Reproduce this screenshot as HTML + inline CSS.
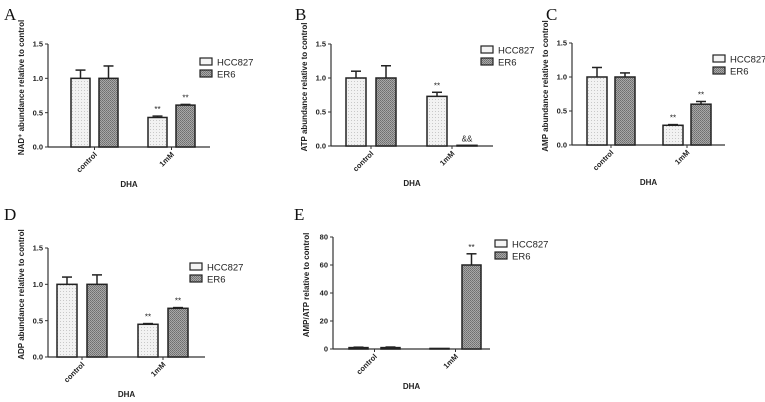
<!DOCTYPE html>
<html><head><meta charset="utf-8"><style>
html,body{margin:0;padding:0;background:#fff}
svg{display:block}
text{font-family:"Liberation Sans",Arial,sans-serif}
.tk{font-size:7.5px;font-weight:bold;fill:#222}
.yl{font-size:8px;font-weight:bold;fill:#222}
.pl{font-family:"Liberation Serif",serif;font-size:17px;fill:#111}
.lg{font-size:9.5px;fill:#222}
.st{font-size:8px;fill:#222}
</style></head><body>
<svg id="fig" width="765" height="402" viewBox="0 0 765 402">
<defs>
<pattern id="pH" width="3" height="3" patternUnits="userSpaceOnUse"><rect width="3" height="3" fill="#f2f2f2"/><rect width="1" height="1" fill="#c8c8c8"/></pattern>
<pattern id="pE" width="2" height="2" patternUnits="userSpaceOnUse"><rect width="2" height="2" fill="#a8a8a8"/><rect width="1" height="1" fill="#6e6e6e"/><rect x="1" y="1" width="1" height="1" fill="#7a7a7a"/></pattern>
</defs>
</svg>
<script>
// Data
const categories = ["control", "1mM"];
const seriesNames = ["HCC827", "ER6"];
const A_hcc = [1.0, 0.43], A_hccErr = [0.12, 0.02], A_er6 = [1.0, 0.61], A_er6Err = [0.18, 0.01];
const B_hcc = [1.0, 0.73], B_hccErr = [0.10, 0.06], B_er6 = [1.0, 0.01], B_er6Err = [0.18, 0.0];
const C_hcc = [1.0, 0.29], C_hccErr = [0.14, 0.01], C_er6 = [1.0, 0.60], C_er6Err = [0.06, 0.04];
const D_hcc = [1.0, 0.45], D_hccErr = [0.10, 0.01], D_er6 = [1.0, 0.67], D_er6Err = [0.13, 0.01];
const E_hcc = [1.0, 0.4], E_hccErr = [0.3, 0.0], E_er6 = [1.0, 60], E_er6Err = [0.4, 8];
const A_marks = [["", "**"], ["", "**"]];
const B_marks = [["", "**"], ["", "&&"]];
const C_marks = [["", "**"], ["", "**"]];
const D_marks = [["", "**"], ["", "**"]];
const E_marks = [["", ""], ["", "**"]];
const ratioTicks = [0, 0.5, 1.0, 1.5];
const ratioTickLabels = ["0.0", "0.5", "1.0", "1.5"];
const eTicks = [0, 20, 40, 60, 80];
const eTickLabels = ["0", "20", "40", "60", "80"];

const svg = document.getElementById('fig');
const NS = "http://www.w3.org/2000/svg";
function mk(tag, attrs, parent, txt) {
  const e = document.createElementNS(NS, tag);
  for (const k in attrs) e.setAttribute(k, attrs[k]);
  if (txt !== undefined) e.textContent = txt;
  (parent || svg).appendChild(e);
  return e;
}

function panel(cfg) {
  const g = mk('g', {});
  
  
  const ymax = cfg.ticks[cfg.ticks.length - 1];
  const y = v => cfg.y0 - (v / ymax) * (cfg.y0 - cfg.yTop);
  const barX = (ci, si) => cfg.first + ci * cfg.gstep + si * cfg.bstep;

  const lab = mk('text', {x: cfg.lx, y: cfg.ly, class: 'pl'}, g, cfg.id);
  
  

  // axes
  const ya = mk('line', {x1: cfg.ax, y1: cfg.yTop, x2: cfg.ax, y2: cfg.y0, stroke: '#333', 'stroke-width': 1.2}, g);
  
  
  const xa = mk('line', {x1: cfg.ax, y1: cfg.y0, x2: cfg.xEnd, y2: cfg.y0, stroke: '#333', 'stroke-width': 1.2}, g);
  
  
  cfg.ticks.forEach((t, i) => {
    const ty = y(t);
    mk('line', {x1: cfg.ax - 3, y1: ty, x2: cfg.ax, y2: ty, stroke: '#333', 'stroke-width': 1}, g);
    const tl = mk('text', {x: cfg.ax - 5, y: ty + 2.7, 'text-anchor': 'end', class: 'tk'}, g, cfg.tickLabels[i]);
    
    
  });
  const yl = mk('text', {x: 0, y: 0, 'text-anchor': 'middle', class: 'yl', transform: `translate(${cfg.ax - 24},${(cfg.yTop + cfg.y0) / 2 - 8}) rotate(-90)`}, g, cfg.ylabel);
  
  

  const series = [[cfg.hcc, cfg.hccErr, 'url(#pH)'], [cfg.er6, cfg.er6Err, 'url(#pE)']];
  categories.forEach((c, ci) => {
    const cx = barX(ci, 0) + (cfg.bstep + cfg.bw) / 2;
    mk('line', {x1: cx, y1: cfg.y0, x2: cx, y2: cfg.y0 + 3, stroke: '#333'}, g);
    const cl = mk('text', {x: 0, y: 0, 'text-anchor': 'end', class: 'tk', transform: `translate(${cx + 3},${cfg.y0 + 8}) rotate(-45)`}, g, c);
    
    
    series.forEach((s, si) => {
      const v = s[0][ci], err = s[1][ci];
      const bx = barX(ci, si), top = y(v);
      if (err > 0) {
        const ey = y(v + err), mx = bx + cfg.bw / 2;
        mk('line', {x1: mx, y1: top, x2: mx, y2: ey, stroke: '#222', 'stroke-width': 1.5}, g);
        mk('line', {x1: mx - 5, y1: ey, x2: mx + 5, y2: ey, stroke: '#222', 'stroke-width': 1.5}, g);
      }
      const r = mk('rect', {x: bx, y: top, width: cfg.bw, height: Math.max(cfg.y0 - top, 0.5), fill: s[2], stroke: '#222', 'stroke-width': 1.5}, g);
      
      
      const m = cfg.marks[si][ci];
      if (m) {
        const st = mk('text', {x: bx + cfg.bw / 2, y: y(v + err) - 4, 'text-anchor': 'middle', class: 'st'}, g, m);
        
        
      }
    });
  });
  const xt = mk('text', {x: (cfg.ax + cfg.xEnd) / 2, y: cfg.y0 + 40, 'text-anchor': 'middle', class: 'yl', 'font-size': '9px'}, g, 'DHA');
  
  

  seriesNames.forEach((n, si) => {
    const ly = cfg.legY + si * 12;
    const lg = mk('g', {}, g);
    
    
    mk('rect', {x: cfg.legX, y: ly - 4, width: 12, height: 7, fill: si ? 'url(#pE)' : '#f4f4f4', stroke: '#222', 'stroke-width': 1.2}, lg);
    mk('text', {x: cfg.legX + 17, y: ly + 3.5, class: 'lg'}, lg, n);
  });
}

panel({id: 'A', lx: 4, ly: 20, ax: 48, xEnd: 210, yTop: 44, y0: 147, first: 71, gstep: 77, bstep: 28, bw: 19,
  ticks: ratioTicks, tickLabels: ratioTickLabels, ylabel: 'NAD⁺ abundance relative to control',
  hcc: A_hcc, hccErr: A_hccErr, er6: A_er6, er6Err: A_er6Err, marks: A_marks, legX: 200, legY: 62});
panel({id: 'B', lx: 295, ly: 20, ax: 331, xEnd: 493, yTop: 44, y0: 146, first: 346, gstep: 81, bstep: 30, bw: 20,
  ticks: ratioTicks, tickLabels: ratioTickLabels, ylabel: 'ATP abundance relative to control',
  hcc: B_hcc, hccErr: B_hccErr, er6: B_er6, er6Err: B_er6Err, marks: B_marks, legX: 481, legY: 50});
panel({id: 'C', lx: 546, ly: 20, ax: 572, xEnd: 725, yTop: 43, y0: 145, first: 587, gstep: 76, bstep: 28, bw: 20,
  ticks: ratioTicks, tickLabels: ratioTickLabels, ylabel: 'AMP abundance relative to control',
  hcc: C_hcc, hccErr: C_hccErr, er6: C_er6, er6Err: C_er6Err, marks: C_marks, legX: 713, legY: 59});
panel({id: 'D', lx: 4, ly: 220, ax: 48, xEnd: 205, yTop: 248, y0: 357, first: 57, gstep: 81, bstep: 30, bw: 20,
  ticks: ratioTicks, tickLabels: ratioTickLabels, ylabel: 'ADP abundance relative to control',
  hcc: D_hcc, hccErr: D_hccErr, er6: D_er6, er6Err: D_er6Err, marks: D_marks, legX: 190, legY: 267});
panel({id: 'E', lx: 294, ly: 220, ax: 333, xEnd: 490, yTop: 237, y0: 349, first: 349, gstep: 81, bstep: 32, bw: 19,
  ticks: eTicks, tickLabels: eTickLabels, ylabel: 'AMP/ATP relative to control',
  hcc: E_hcc, hccErr: E_hccErr, er6: E_er6, er6Err: E_er6Err, marks: E_marks, legX: 495, legY: 244});
</script>
</body></html>
